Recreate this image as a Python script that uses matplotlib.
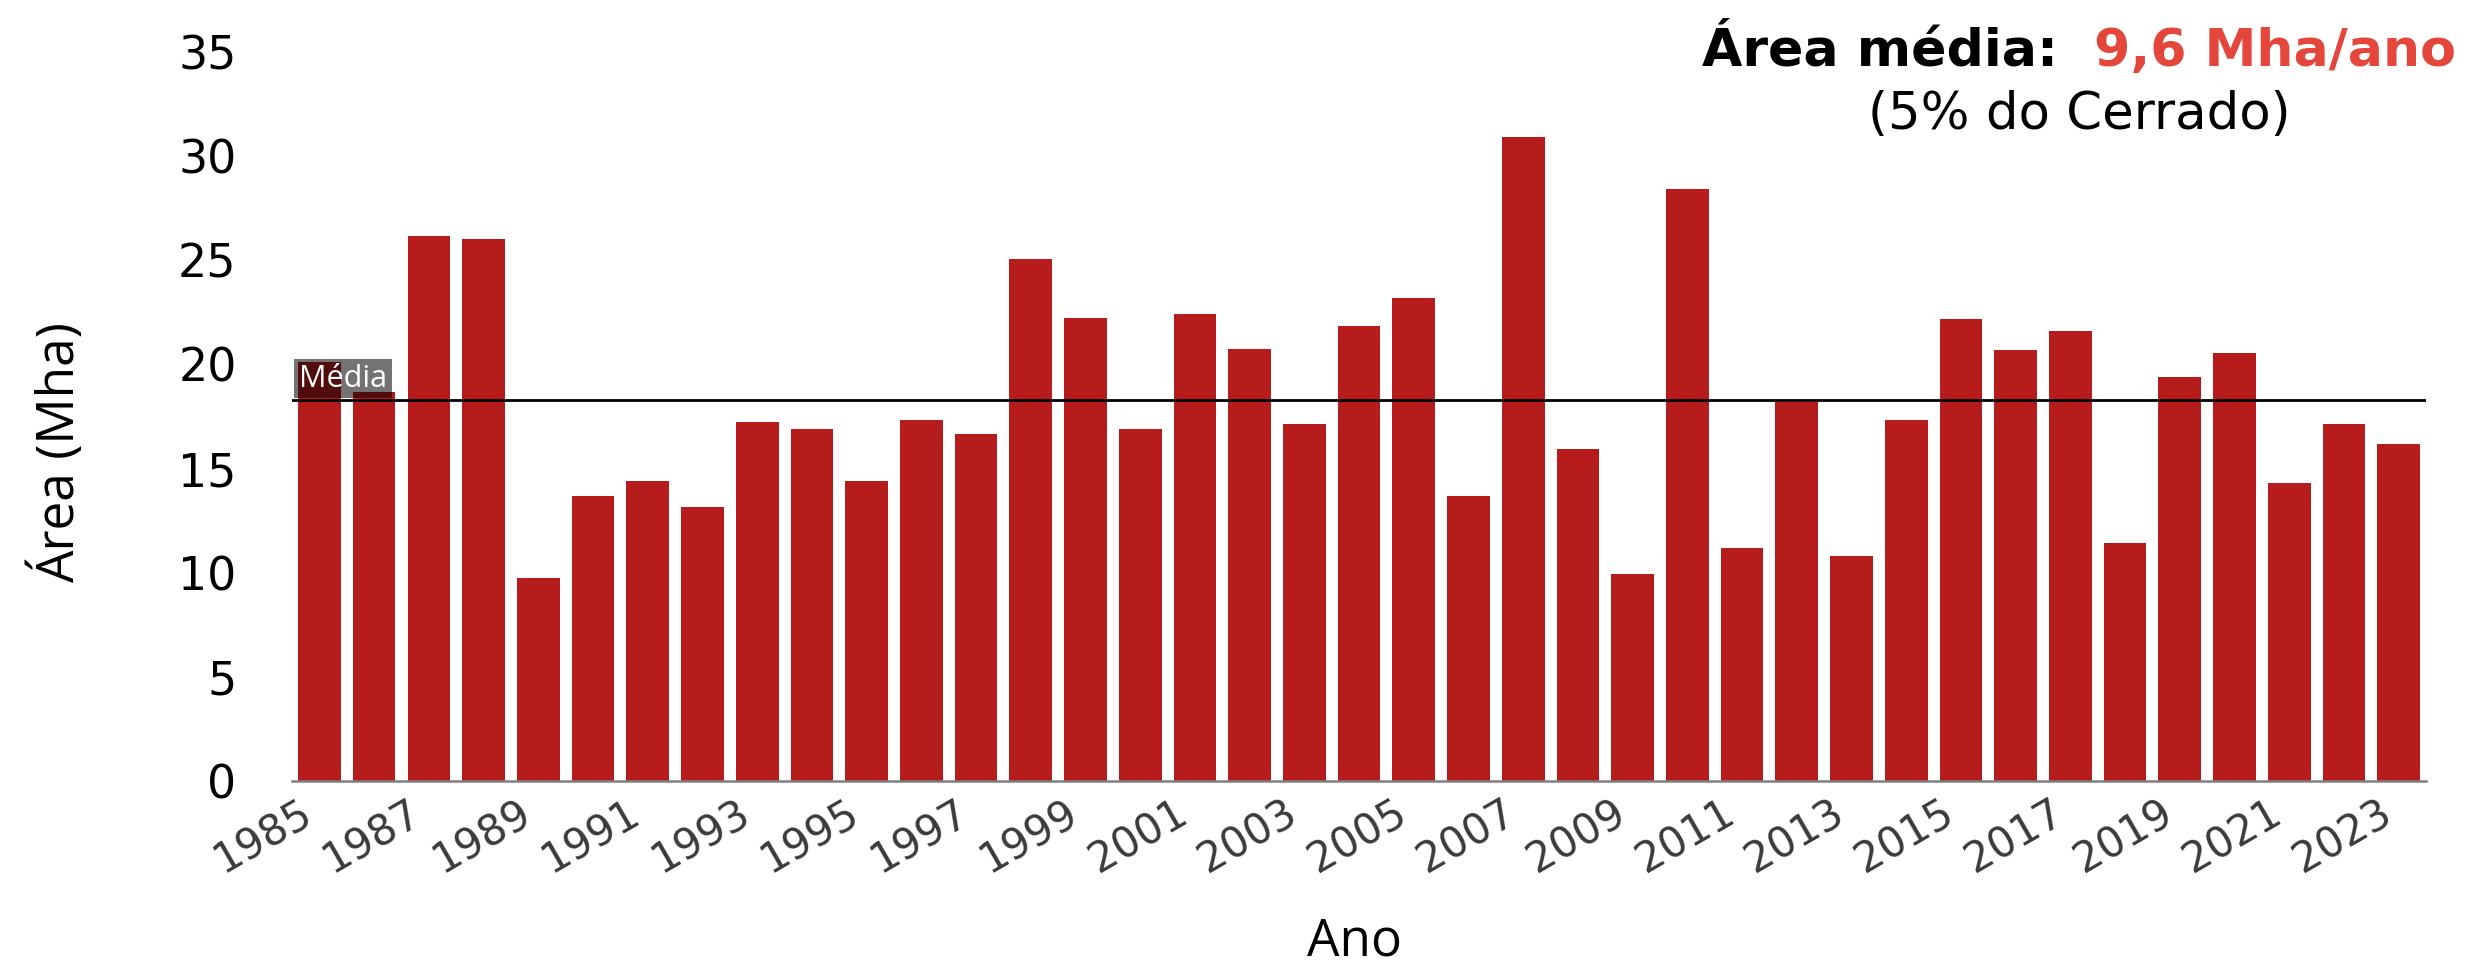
import matplotlib.pyplot as plt
import numpy as np

# área queimada anual no Cerrado (Mha)
anos = list(range(1985, 2024))
area = [20.1, 18.66, 26.15, 26.0, 9.73, 13.70, 14.42, 13.14, 17.25, 16.88,
        14.40, 17.33, 16.64, 25.05, 22.24, 16.88, 22.40, 20.75, 17.12, 21.86,
        23.17, 13.68, 30.90, 15.94, 9.95, 28.41, 11.20, 18.18, 10.80, 17.33,
        22.18, 20.69, 21.62, 11.41, 19.38, 20.53, 14.32, 17.12, 16.18]
yticks = [0, 5, 10, 15, 20, 25, 30, 35]

titulo = 'Área média:  '
destaque = '9,6 Mha/ano'
subtitulo = '(5% do Cerrado)'

cor_barra = '#b71c1c'
cor_destaque = '#e4463b'

fig = plt.figure(figsize=(24.69, 9.65), dpi=100)
ax = fig.add_axes([0.1183, 0.1907, 0.8643, 0.7554])

x = np.arange(len(anos))
ax.bar(x, area, width=0.78, color=cor_barra)
ax.set_xlim(-0.5, len(anos) - 0.5)
ax.set_ylim(0, 35)

# linha da média
media = np.mean(area)
ax.axhline(media, color='black', lw=2, zorder=3)
ax.annotate('Média', xy=(-0.5, media), xytext=(7, 6), textcoords='offset pixels',
            ha='left', va='bottom', color='white', fontsize=22, family='Open Sans',
            bbox=dict(boxstyle='square,pad=0.15', fc='black', ec='none', alpha=0.55),
            zorder=4)

for s in ['top', 'right', 'left']:
    ax.spines[s].set_visible(False)
ax.spines['bottom'].set_color('#808080')
ax.spines['bottom'].set_linewidth(1.8)

ax.set_yticks(yticks)
ax.set_yticklabels([str(v) for v in yticks], fontsize=33, family='DejaVu Sans')
ax.tick_params(axis='y', length=0, pad=40)

ax.set_xticks(x[::2])
ax.set_xticklabels([str(a) for a in anos[::2]], rotation=30, ha='right',
                   fontsize=30, color='#3a3a3a', family='DejaVu Sans')
ax.tick_params(axis='x', length=0, pad=8)

ax.set_ylabel('Área (Mha)', fontsize=37, family='Open Sans', va='center', ha='center')
ax.yaxis.set_label_coords(-0.1097, 0.45)
ax.set_xlabel('Ano', fontsize=37, family='Open Sans', va='center')
ax.xaxis.set_label_coords(0.4977, -0.221)

# título à direita em duas cores
fig.canvas.draw()
r = fig.canvas.get_renderer()
t2 = fig.text(2456 / 2469, 1 - 66 / 965, destaque, ha='right', va='baseline',
              fontsize=37.5, fontweight='bold', color=cor_destaque, family='DejaVu Sans')
bb = t2.get_window_extent(r)
t1 = fig.text(bb.x0 / fig.bbox.width, 1 - 66 / 965, titulo, ha='right', va='baseline',
              fontsize=37.5, fontweight='bold', color='black', family='DejaVu Sans')
bb1 = t1.get_window_extent(r)
cx = (bb1.x0 + bb.x1) / 2 / fig.bbox.width
fig.text(cx, 1 - 115 / 965, subtitulo, ha='center', va='center',
         fontsize=37, color='black', family='DejaVu Sans')

fig.savefig('out.png', dpi=100)
